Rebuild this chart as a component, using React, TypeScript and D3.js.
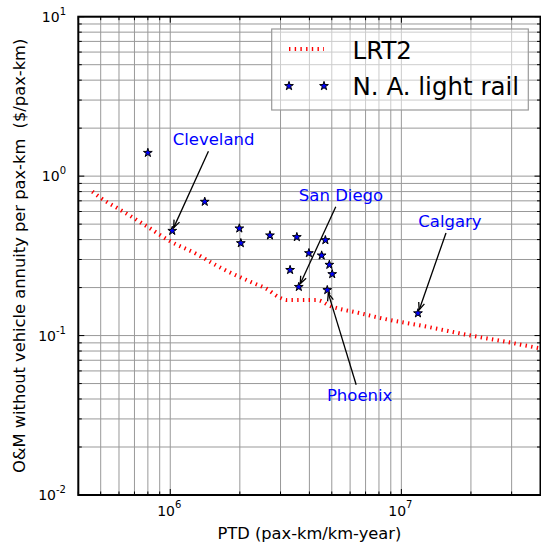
import React from "react";
import * as d3 from "d3";

// LRT2 model curve: operating cost versus passenger traffic density
const lrtPtd = [4.6e5, 5e5, 6.25e5, 8e5, 1e6, 1.3e6, 1.55e6, 1.8e6, 2.3e6, 2.6e6, 3.0e6, 3.2e6, 4.3e6, 5.0e6, 6.5e6, 8.5e6, 1.2e7, 2e7, 3e7, 4e7];
const lrtCost = [0.8, 0.73, 0.6, 0.48, 0.39, 0.325, 0.28, 0.25, 0.213, 0.197, 0.172, 0.167, 0.167, 0.152, 0.139, 0.127, 0.116, 0.1, 0.09, 0.083];

// North American light rail systems
const railPtd = [8.0e5, 1.02e6, 1.41e6, 1.99e6, 2.02e6, 2.7e6, 3.53e6, 4.69e6, 3.98e6, 4.52e6, 4.88e6, 5.02e6, 3.3e6, 3.6e6, 4.78e6, 1.18e7];
const railCost = [1.4, 0.454, 0.691, 0.47, 0.38, 0.425, 0.415, 0.397, 0.329, 0.318, 0.278, 0.243, 0.258, 0.202, 0.193, 0.138];
const railNames = ["", "Cleveland", "", "", "", "", "", "", "", "", "", "", "", "San Diego", "Phoenix", "Calgary"];

// Label anchors (data coordinates of the label centre)
const noteNames = ["Cleveland", "San Diego", "Calgary", "Phoenix"];
const notePtd = [1.54e6, 5.48e6, 1.623e7, 6.6e6];
const noteCost = [1.685, 0.756, 0.519, 0.0417];

const xMajor = [1e6, 1e7];
const xMajorExp = ["6", "7"];
const yMajor = [0.01, 0.1, 1, 10];
const yMajorExp = ["-2", "-1", "0", "1"];

const W = 541;
const H = 549;
const L = 78.3;
const R = 540.5;
const T = 16.7;
const B = 495;
const FONT = "'DejaVu Sans', sans-serif";

const x = d3.scaleLog().domain([4e5, 4e7]).range([L, R]);
const y = d3.scaleLog().domain([0.01, 10]).range([B, T]);

function logTicks(lo: number, hi: number) {
  const out: { v: number; major: boolean }[] = [];
  for (let e = Math.floor(Math.log10(lo)); e <= Math.ceil(Math.log10(hi)); e++) {
    for (let m = 1; m <= 9; m++) {
      const v = m * Math.pow(10, e);
      if (v >= lo * 0.9999 && v <= hi * 1.0001) out.push({ v, major: m === 1 });
    }
  }
  return out;
}

function starPath(cx: number, cy: number, r: number) {
  const inner = r * 0.381966;
  const pts: string[] = [];
  for (let i = 0; i < 10; i++) {
    const rr = i % 2 === 0 ? r : inner;
    const a = -Math.PI / 2 + (i * Math.PI) / 5;
    pts.push(`${(cx + rr * Math.cos(a)).toFixed(2)},${(cy + rr * Math.sin(a)).toFixed(2)}`);
  }
  return "M" + pts.join("L") + "Z";
}

export default function App() {
  const xt = logTicks(4e5, 4e7);
  const yt = logTicks(0.01, 10);

  const line = d3
    .line<number>()
    .x((_, i) => x(lrtPtd[i]))
    .y((_, i) => y(lrtCost[i]))
    .curve(d3.curveMonotoneX);
  const lrtPath = line(lrtPtd) || "";

  const annotations = noteNames.map((name, k) => {
    const idx = railNames.indexOf(name);
    const px = x(railPtd[idx]);
    const py = y(railCost[idx]);
    const cx = x(notePtd[k]);
    const cy = y(noteCost[k]);
    const halfW = name.length * 4.7;
    const halfH = 9.5;
    const dx = px - cx;
    const dy = py - cy;
    const len = Math.hypot(dx, dy);
    const ux = dx / len;
    const uy = dy / len;
    const tEdge = Math.min(Math.abs(halfW / (ux || 1e-9)), Math.abs(halfH / (uy || 1e-9))) + 2;
    const sx = cx + ux * tEdge;
    const sy = cy + uy * tEdge;
    const ex = px - ux * 3.5;
    const ey = py - uy * 3.5;
    const hl = 8;
    const ang = (22 * Math.PI) / 180;
    const back = Math.atan2(-uy, -ux);
    const h1 = [ex + hl * Math.cos(back + ang), ey + hl * Math.sin(back + ang)];
    const h2 = [ex + hl * Math.cos(back - ang), ey + hl * Math.sin(back - ang)];
    return { name, cx, cy, sx, sy, ex, ey, h1, h2 };
  });

  return (
    <svg
      width={W}
      height={H}
      style={{ position: "absolute", left: 0, top: 0, background: "#fff" }}
      fontFamily={FONT}
    >
      <defs>
        <clipPath id="plotArea">
          <rect x={L} y={T} width={R - L} height={B - T} />
        </clipPath>
      </defs>
      <rect x={0} y={0} width={W} height={H} fill="#fff" />

      {/* grid */}
      <g stroke="#999999" strokeWidth={1} clipPath="url(#plotArea)">
        {xt.map((t, i) => (
          <line key={"gx" + i} x1={x(t.v)} x2={x(t.v)} y1={T} y2={B} />
        ))}
        {yt.map((t, i) => (
          <line key={"gy" + i} x1={L} x2={R} y1={y(t.v)} y2={y(t.v)} />
        ))}
      </g>

      {/* LRT2 curve */}
      <path
        d={lrtPath}
        fill="none"
        stroke="#ff0000"
        strokeWidth={4}
        strokeDasharray="1.4 4.3"
        clipPath="url(#plotArea)"
      />

      {/* light rail systems */}
      <g fill="#0000ff" stroke="#000" strokeWidth={1}>
        {railPtd.map((v, i) => (
          <path key={"s" + i} d={starPath(x(v), y(railCost[i]), 4.6)} />
        ))}
      </g>

      {/* annotations */}
      {annotations.map((a) => (
        <g key={a.name}>
          <line x1={a.sx} y1={a.sy} x2={a.ex} y2={a.ey} stroke="#000" strokeWidth={1.3} />
          <polyline
            points={`${a.h1[0]},${a.h1[1]} ${a.ex},${a.ey} ${a.h2[0]},${a.h2[1]}`}
            fill="none"
            stroke="#000"
            strokeWidth={1.3}
          />
          <text x={a.cx} y={a.cy + 5} fill="#0000ff" fontSize={16.5} textAnchor="middle">
            {a.name}
          </text>
        </g>
      ))}

      {/* ticks on all four sides, pointing inward */}
      <g stroke="#000" strokeWidth={1}>
        {xt.map((t, i) => {
          const len = t.major ? 6 : 3.5;
          const px = x(t.v);
          return (
            <g key={"tx" + i}>
              <line x1={px} x2={px} y1={B} y2={B - len} />
              <line x1={px} x2={px} y1={T} y2={T + len} />
            </g>
          );
        })}
        {yt.map((t, i) => {
          const len = t.major ? 6 : 3.5;
          const py = y(t.v);
          return (
            <g key={"ty" + i}>
              <line x1={L} x2={L + len} y1={py} y2={py} />
              <line x1={R} x2={R - len} y1={py} y2={py} />
            </g>
          );
        })}
      </g>

      {/* spines */}
      <rect x={L} y={T} width={R - L} height={B - T} fill="none" stroke="#000" strokeWidth={2} />

      {/* tick labels */}
      <g fontSize={14} fill="#000">
        {xMajor.map((v, i) => (
          <text key={"lx" + i} x={x(v) - 1} y={B + 21} textAnchor="middle">
            10
            <tspan dy={-8} fontSize={10}>
              {xMajorExp[i]}
            </tspan>
          </text>
        ))}
        {yMajor.map((v, i) => (
          <text key={"ly" + i} x={66} y={y(v) + 5} textAnchor="end">
            10
            <tspan dy={-7} fontSize={10}>
              {yMajorExp[i]}
            </tspan>
          </text>
        ))}
      </g>

      {/* axis titles */}
      <text x={(L + R) / 2} y={539} fontSize={16.3} textAnchor="middle">
        PTD (pax-km/km-year)
      </text>
      <text
        transform={`translate(25, ${(T + B) / 2}) rotate(-90)`}
        fontSize={16.3}
        textAnchor="middle"
        style={{ whiteSpace: "pre" }}
      >
        {"O&M without vehicle annuity per pax-km  ($/pax-km)"}
      </text>

      {/* legend */}
      <g>
        <rect x={271.7} y={29} width={256.6} height={81} fill="#fff" fillOpacity={0.5} stroke="#999" strokeWidth={1.2} />
        <line x1={289} x2={324} y1={49} y2={49} stroke="#ff0000" strokeWidth={4} strokeDasharray="1.4 4.3" />
        <path d={starPath(289, 86, 4.6)} fill="#0000ff" stroke="#000" strokeWidth={1} />
        <path d={starPath(324, 86, 4.6)} fill="#0000ff" stroke="#000" strokeWidth={1} />
        <text x={352.5} y={58.5} fontSize={24.5}>
          LRT2
        </text>
        <text x={352.5} y={95} fontSize={24.5}>
          N. A. light rail
        </text>
      </g>
    </svg>
  );
}
